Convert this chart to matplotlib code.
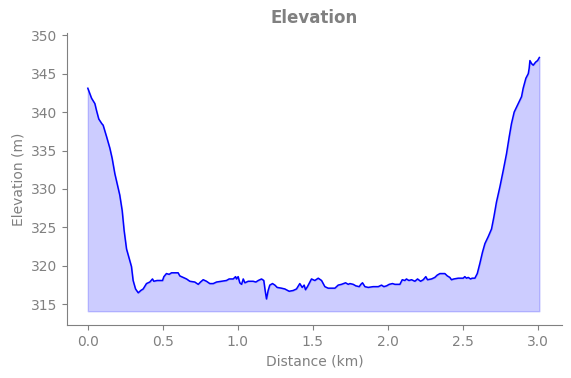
import numpy as np
import matplotlib
matplotlib.use("Agg")
import matplotlib.pyplot as plt

# distance along the route (km) and elevation (m)
distance_km = [
    0.0, 0.025, 0.047, 0.058, 0.073, 0.093, 0.102, 0.125, 0.147, 0.162,
    0.18, 0.198, 0.213, 0.229, 0.242, 0.258, 0.28, 0.291, 0.302, 0.318,
    0.336, 0.353, 0.369, 0.391, 0.413, 0.431, 0.44, 0.462, 0.498, 0.507,
    0.524, 0.542, 0.558, 0.602, 0.613, 0.636, 0.658, 0.68, 0.713, 0.736,
    0.751, 0.769, 0.791, 0.813, 0.836, 0.858, 0.891, 0.924, 0.942, 0.969,
    0.985, 0.991, 1.002, 1.013, 1.025, 1.036, 1.047, 1.069, 1.102, 1.12,
    1.136, 1.158, 1.173, 1.182, 1.191, 1.202, 1.213, 1.231, 1.247, 1.262,
    1.291, 1.313, 1.342, 1.369, 1.391, 1.413, 1.429, 1.442, 1.451, 1.464,
    1.48, 1.491, 1.513, 1.536, 1.558, 1.58, 1.602, 1.647, 1.669, 1.691,
    1.718, 1.736, 1.747, 1.769, 1.787, 1.809, 1.82, 1.831, 1.847, 1.869,
    1.902, 1.936, 1.947, 1.958, 1.973, 1.991, 2.009, 2.031, 2.047, 2.08,
    2.096, 2.113, 2.124, 2.14, 2.158, 2.18, 2.198, 2.218, 2.236, 2.253,
    2.264, 2.291, 2.313, 2.329, 2.347, 2.38, 2.396, 2.413, 2.424, 2.44,
    2.469, 2.502, 2.513, 2.524, 2.536, 2.551, 2.562, 2.58, 2.596, 2.613,
    2.631, 2.647, 2.669, 2.691, 2.707, 2.724, 2.747, 2.769, 2.791, 2.809,
    2.824, 2.842, 2.869, 2.891, 2.902, 2.92, 2.936, 2.942, 2.947, 2.958,
    2.969, 2.985, 2.998, 3.01,
]
elevation_m = [
    343.1, 341.8, 341.1, 340.2, 339.1, 338.5, 338.3, 336.8, 335.3, 334.0,
    332.0, 330.5, 329.2, 327.2, 324.6, 322.2, 320.7, 319.9, 318.1, 317.0,
    316.5, 316.8, 317.0, 317.7, 317.9, 318.3, 318.0, 318.1, 318.1, 318.6,
    319.0, 318.9, 319.1, 319.1, 318.7, 318.5, 318.3, 318.0, 317.9, 317.6,
    317.9, 318.2, 318.0, 317.7, 317.7, 317.9, 318.0, 318.1, 318.3, 318.3,
    318.6, 318.3, 318.6, 317.8, 317.6, 318.3, 317.8, 318.0, 318.0, 317.9,
    318.1, 318.3, 318.1, 316.8, 315.7, 316.8, 317.5, 317.7, 317.5, 317.2,
    317.1, 317.0, 316.7, 316.8, 317.0, 317.7, 317.2, 317.5, 316.9, 317.3,
    317.9, 318.3, 318.1, 318.4, 318.1, 317.3, 317.1, 317.1, 317.5, 317.6,
    317.8, 317.6, 317.7, 317.6, 317.4, 317.3, 317.6, 317.8, 317.3, 317.2,
    317.3, 317.3, 317.4, 317.5, 317.3, 317.4, 317.6, 317.7, 317.6, 317.6,
    318.2, 318.1, 318.3, 318.1, 318.2, 318.0, 318.3, 318.0, 318.2, 318.6,
    318.2, 318.3, 318.5, 318.8, 319.0, 319.0, 318.7, 318.5, 318.2, 318.3,
    318.4, 318.4, 318.6, 318.4, 318.5, 318.3, 318.4, 318.4, 319.0, 320.3,
    321.8, 322.9, 323.8, 324.8, 326.4, 328.3, 330.3, 332.4, 334.6, 336.8,
    338.5, 340.0, 341.1, 342.0, 343.1, 344.4, 345.0, 345.7, 346.7, 346.3,
    346.1, 346.5, 346.7, 347.1,
]

x = np.array(distance_km)
y = np.array(elevation_m)
base = y.min() - 1.6

fig = plt.figure(figsize=(5.71, 3.78), dpi=100)
ax = fig.add_axes([0.117, 0.14, 0.867, 0.773])

ax.fill_between(x, y, base, color='blue', alpha=0.2)
ax.plot(x, y, color='blue', linewidth=1.1)

ax.set_xlim(-0.14, 3.16)
ax.set_ylim(312.3, 350.3)
ax.set_yticks([315, 320, 325, 330, 335, 340, 345, 350])
ax.set_xticks([0.0, 0.5, 1.0, 1.5, 2.0, 2.5, 3.0])

ax.set_title('Elevation', color='gray', fontweight='bold', fontsize=12, pad=7)
ax.set_xlabel('Distance (km)', color='gray')
ax.set_ylabel('Elevation (m)', color='gray')

for side in ['top', 'right']:
    ax.spines[side].set_visible(False)
for side in ['left', 'bottom']:
    ax.spines[side].set_color('gray')
ax.tick_params(colors='gray')

fig.savefig('out.png', dpi=100)
